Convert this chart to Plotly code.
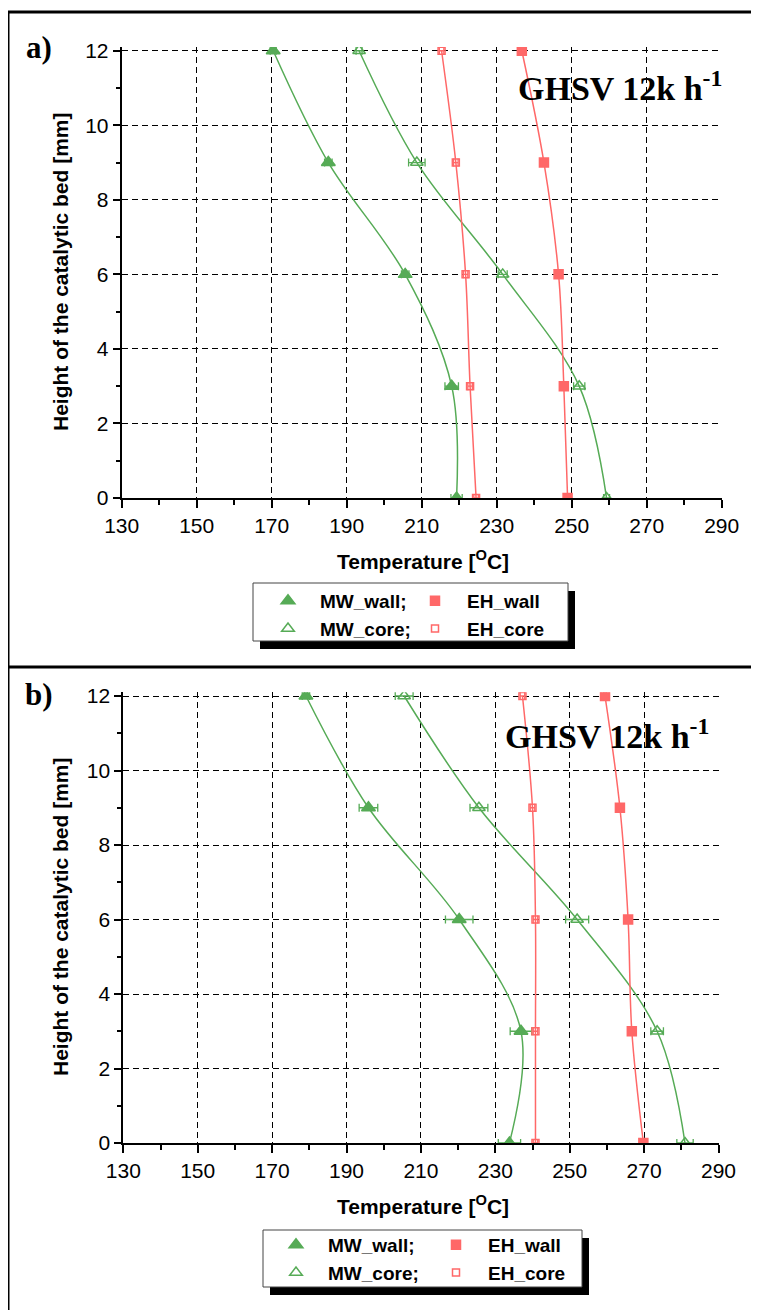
import plotly.graph_objects as go

W, H = 759, 1310
OFF = 8  # page body offset

heights = [12, 9, 6, 3, 0]

# Panel a) values (temperature, degC)
a_mw_wall = [170.4, 185.1, 205.6, 218.0, 219.3]
a_mw_wall_err = [0.8, 1.0, 1.0, 1.8, 1.5]
a_mw_core = [193.3, 208.7, 231.6, 252.0, 259.3]
a_mw_core_err = [0.8, 2.2, 1.2, 1.5, 0.8]
a_eh_wall = [236.7, 242.6, 246.5, 247.9, 248.9]
a_eh_wall_err = [0.3, 0.3, 0.3, 0.3, 0.3]
a_eh_core = [215.3, 219.1, 221.7, 222.9, 224.5]
a_eh_core_err = [0.6, 0.6, 0.6, 0.6, 0.6]

# Panel b) values
b_mw_wall = [179.1, 195.9, 220.3, 236.9, 233.8]
b_mw_wall_err = [1.0, 2.5, 3.7, 2.9, 3.0]
b_mw_core = [205.5, 225.6, 252.0, 273.5, 281.0]
b_mw_core_err = [2.4, 2.4, 3.1, 1.7, 2.2]
b_eh_wall = [259.5, 263.5, 265.7, 266.7, 269.8]
b_eh_wall_err = [0.3, 0.3, 0.3, 0.3, 0.3]
b_eh_core = [237.3, 240.0, 240.8, 240.8, 240.8]
b_eh_core_err = [0.6, 0.6, 0.6, 0.6, 0.6]

x_ticks = [130, 150, 170, 190, 210, 230, 250, 270, 290]
y_ticks = [0, 2, 4, 6, 8, 10, 12]

names = ["MW_wall;", "MW_core;", "EH_wall", "EH_core"]
GREEN = "#56AB56"
RED = "#FF6868"


def px(x):
    return (x - OFF) / W


def py(y):
    return 1 - (y - OFF) / H


fig = go.Figure()

panels = [
    ("x", "y", [a_mw_wall, a_mw_core, a_eh_wall, a_eh_core],
     [a_mw_wall_err, a_mw_core_err, a_eh_wall_err, a_eh_core_err], ["legend", "legend2"]),
    ("x2", "y2", [b_mw_wall, b_mw_core, b_eh_wall, b_eh_core],
     [b_mw_wall_err, b_mw_core_err, b_eh_wall_err, b_eh_core_err], ["legend3", "legend4"]),
]

styles = [
    (GREEN, "triangle-up", 12),
    (GREEN, "triangle-up-open", 11),
    (RED, "square", 9),
    (RED, "square-open", 7),
]

for xa, ya, series, errs, legs in panels:
    for i, (vals, err) in enumerate(zip(series, errs)):
        color, sym, size = styles[i]
        fig.add_trace(go.Scatter(
            x=vals, y=heights, mode="lines", xaxis=xa, yaxis=ya,
            line=dict(color=color, width=1.5, shape="spline", smoothing=1),
            showlegend=False, hoverinfo="skip"))
    for i, (vals, err) in enumerate(zip(series, errs)):
        color, sym, size = styles[i]
        fig.add_trace(go.Scatter(
            x=vals, y=heights, mode="markers", xaxis=xa, yaxis=ya,
            name=names[i], legend=legs[0] if i < 2 else legs[1],
            legendgroup=f"{xa}{i}",
            marker=dict(color=color, symbol=sym, size=size,
                        line=dict(color=color, width=1.5)),
            error_x=dict(type="data", array=err, color=color, thickness=1.3, width=4)))

tickfont = dict(family="Liberation Sans, Arial", size=21, color="black")


def xaxis(domain):
    return dict(domain=domain, range=[130, 290], tickvals=x_ticks, ticks="outside",
                ticklen=8, tickwidth=1.5, tickcolor="black", showline=True,
                linecolor="black", linewidth=2, showgrid=True, gridcolor="black",
                griddash="6px,4px", gridwidth=1, zeroline=False, tickfont=tickfont,
                minor=dict(ticks="outside", ticklen=5, tickwidth=1.5, tickcolor="black",
                           tick0=130, dtick=10, showgrid=False),
                automargin=False, fixedrange=True)


def yaxis(domain):
    return dict(domain=domain, range=[0, 12.1], tickvals=y_ticks, ticks="outside",
                ticklen=7, tickwidth=1.5, tickcolor="black", showline=True,
                linecolor="black", linewidth=2, showgrid=True, gridcolor="black",
                griddash="6px,4px", gridwidth=1, zeroline=False, tickfont=tickfont,
                minor=dict(ticks="outside", ticklen=4, tickwidth=1.5, tickcolor="black",
                           tick0=0, dtick=1, showgrid=False),
                automargin=False, fixedrange=True)


xa_dom = [px(121.7), px(721.7)]
ya_dom = [py(498), py(47)]
xb_dom = [px(123.3), px(718.5)]
yb_dom = [py(1143), py(692.3)]

legfont = dict(family="Liberation Sans, Arial", size=19, color="black", weight="bold")


def leg(xc, yc):
    return dict(x=px(xc - 32), y=py(yc - 19), xanchor="left", yanchor="top",
                bgcolor="rgba(0,0,0,0)", borderwidth=0, font=legfont,
                tracegroupgap=3, itemwidth=54, traceorder="normal")


fig.update_layout(
    width=W, height=H, margin=dict(l=0, r=0, t=0, b=0, pad=0, autoexpand=False),
    paper_bgcolor="white", plot_bgcolor="white",
    xaxis=dict(xaxis(xa_dom), anchor="y"),
    yaxis=dict(yaxis(ya_dom), anchor="x"),
    xaxis2=dict(xaxis(xb_dom), anchor="y2"),
    yaxis2=dict(yaxis(yb_dom), anchor="x2"),
    legend=leg(288, 601),
    legend2=leg(435, 601),
    legend3=leg(296, 1245),
    legend4=leg(456, 1245),
)

shapes = []
# outer frames
for (x0, y0, x1, y1) in [(8, 12, 8, 1310), (757, 12, 757, 1310), (8, 12, 757, 12), (8, 667, 757, 667)]:
    shapes.append(dict(type="line", xref="paper", yref="paper", x0=px(x0), y0=py(y0),
                       x1=px(x1), y1=py(y1), line=dict(color="black", width=3)))
# legend boxes with shadow
for (x0, y0, x1, y1) in [(253, 583, 568, 641), (263, 1230, 582, 1287)]:
    shapes.append(dict(type="rect", xref="paper", yref="paper", x0=px(x0 + 7), y0=py(y0 + 8),
                       x1=px(x1 + 7), y1=py(y1 + 8), fillcolor="black",
                       line=dict(color="black", width=0), layer="above"))
    shapes.append(dict(type="rect", xref="paper", yref="paper", x0=px(x0), y0=py(y0),
                       x1=px(x1), y1=py(y1), fillcolor="white",
                       line=dict(color="#444", width=1), layer="above"))
fig.update_layout(shapes=shapes)

serif_big = dict(family="Liberation Serif, Times New Roman", size=31, color="black")
ghsv_font = dict(family="Liberation Serif, Times New Roman", size=34, color="black")
title_font = dict(family="Liberation Sans, Arial", size=21, color="black")

annotations = [
    dict(text="<b>a)</b>", x=px(39), y=py(47), font=serif_big),
    dict(text="<b>b)</b>", x=px(39), y=py(694), font=serif_big),
    dict(text="<b>GHSV 12k h<sup>-1</sup></b>", x=px(620), y=py(86), font=ghsv_font),
    dict(text="<b>GHSV 12k h<sup>-1</sup></b>", x=px(607), y=py(734), font=ghsv_font),
    dict(text="<b>Height of the catalytic bed [mm]</b>", x=px(60), y=py(272),
         textangle=-90, font=title_font),
    dict(text="<b>Height of the catalytic bed [mm]</b>", x=px(60), y=py(917),
         textangle=-90, font=title_font),
    dict(text="<b>Temperature [<sup>O</sup>C]</b>", x=px(423), y=py(560), font=title_font),
    dict(text="<b>Temperature [<sup>O</sup>C]</b>", x=px(423), y=py(1205), font=title_font),
]
for a in annotations:
    a.update(xref="paper", yref="paper", showarrow=False, xanchor="center", yanchor="middle")
fig.update_layout(annotations=annotations)

fig.write_html("out.html")
